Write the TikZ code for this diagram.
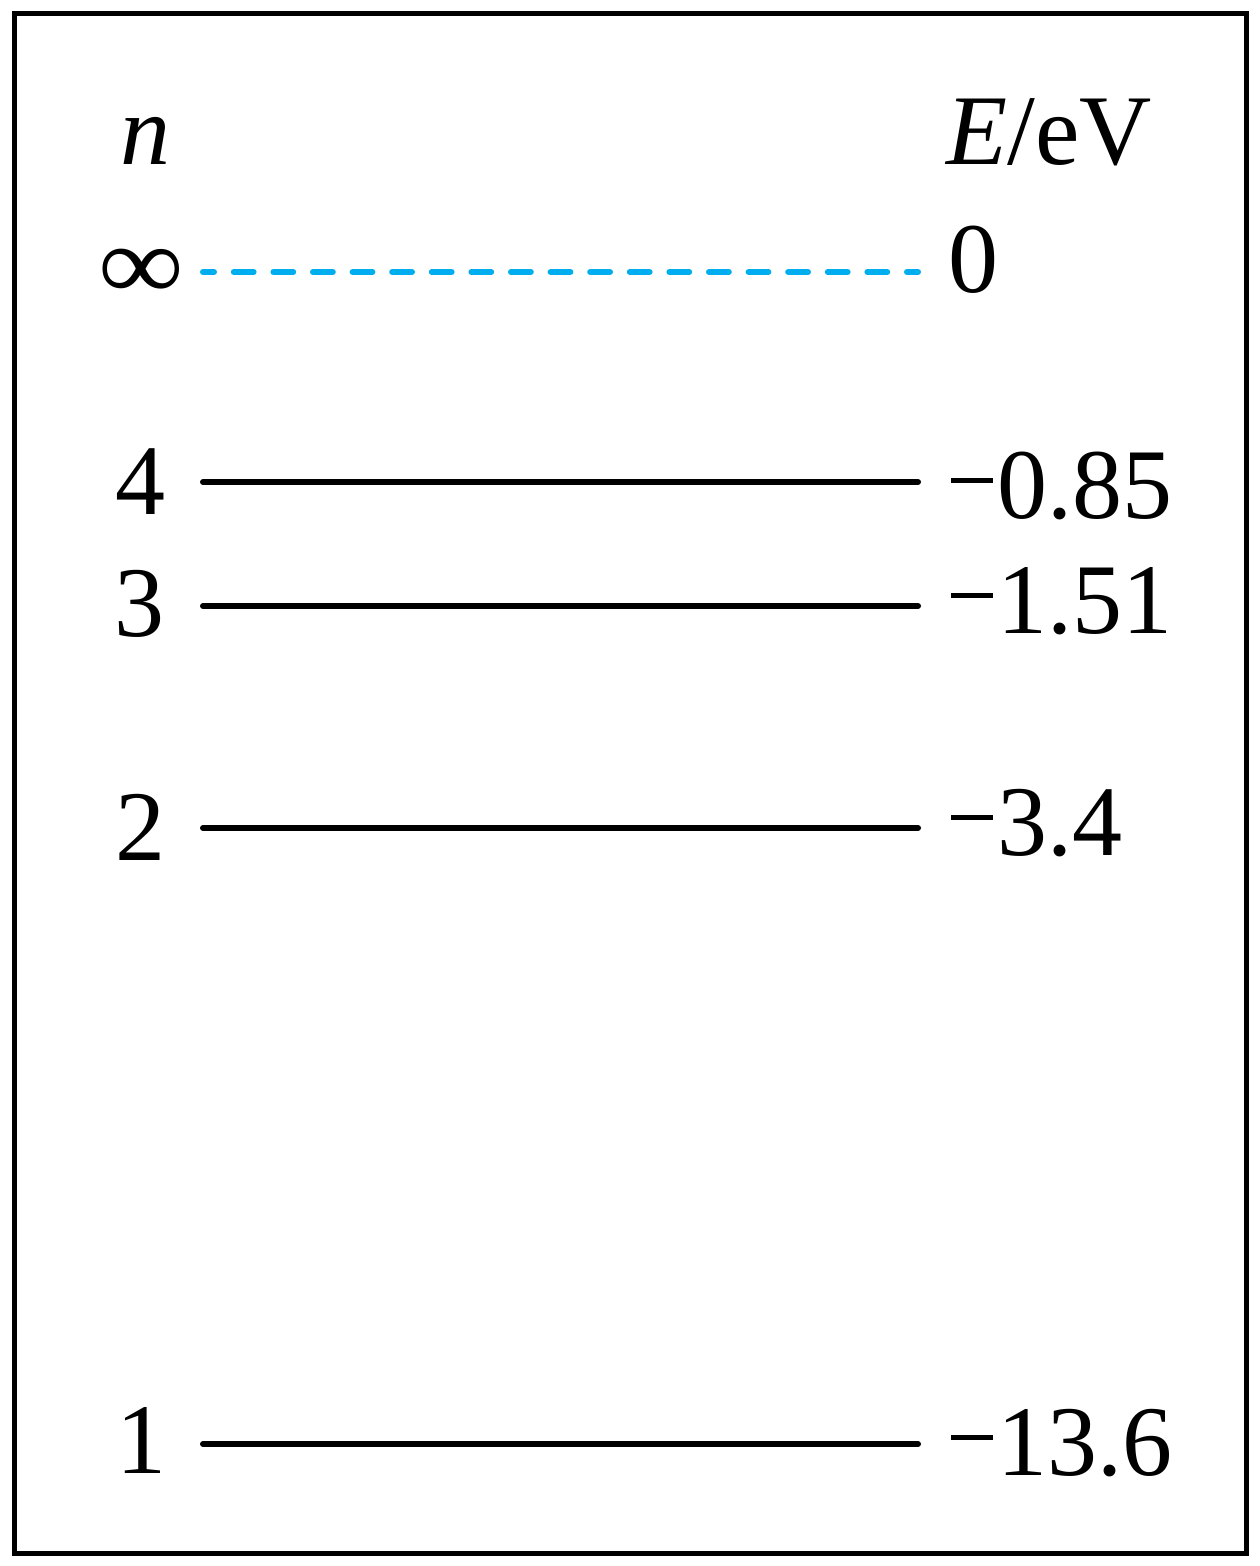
\documentclass[tikz,border=0pt]{standalone}
\usepackage{fontspec}
\setmainfont{Liberation Serif}
\definecolor{levelcyan}{RGB}{0,174,239}
\newcommand{\mminus}{\rule[0.355em]{0.42em}{0.048em}\kern0.04em}
\begin{document}
\begin{tikzpicture}[x=0.5pt,y=-0.5pt,
  lbl/.style={inner sep=0pt,font=\fontsize{50}{60}\selectfont},
  lv/.style={line width=3pt,line cap=round},
  lvdash/.style={line width=3pt,line cap=round,levelcyan,dash pattern=on 9.9pt off 9.9pt,dash phase=4.4pt}]
\useasboundingbox (0,0) rectangle (1259,1566);
\draw[line width=2.5pt] (14,14) rectangle (1246,1553);
% level endpoints
\coordinate (i0) at (203,272); \coordinate (i1) at (918,272);
\coordinate (a0) at (203,482); \coordinate (a1) at (918,482);
\coordinate (b0) at (203,606); \coordinate (b1) at (918,606);
\coordinate (c0) at (203,828); \coordinate (c1) at (918,828);
\coordinate (d0) at (203,1444); \coordinate (d1) at (918,1444);
\draw[lvdash] (i0) -- (i1);
\draw[lv] (a0) -- (a1);
\draw[lv] (b0) -- (b1);
\draw[lv] (c0) -- (c1);
\draw[lv] (d0) -- (d1);
% left labels
\node[lbl,anchor=base] (nl) at (145,165) {\itshape n};
\node[lbl,anchor=center] (inf) at (141,274) {\scalebox{1.2}[1.05]{∞}};
\node[lbl,anchor=base] (l4) at (140,515) {4};
\node[lbl,anchor=base] (l3) at (139,636) {3};
\node[lbl,anchor=base] (l2) at (140,860) {2};
\node[lbl,anchor=base] (l1) at (141,1473) {1};
% right labels
\node[lbl,anchor=base west] (el) at (946,165) {\itshape E\upshape/eV};
\node[lbl,anchor=base west] (e0) at (948,293) {0};
\node[lbl,anchor=base west] (e4) at (951,518) {\mminus0.85};
\node[lbl,anchor=base west] (e3) at (951,633) {\mminus1.51};
\node[lbl,anchor=base west] (e2) at (951,855) {\mminus3.4};
\node[lbl,anchor=base west] (e1) at (951,1475) {\mminus13.6};
\end{tikzpicture}
\end{document}
